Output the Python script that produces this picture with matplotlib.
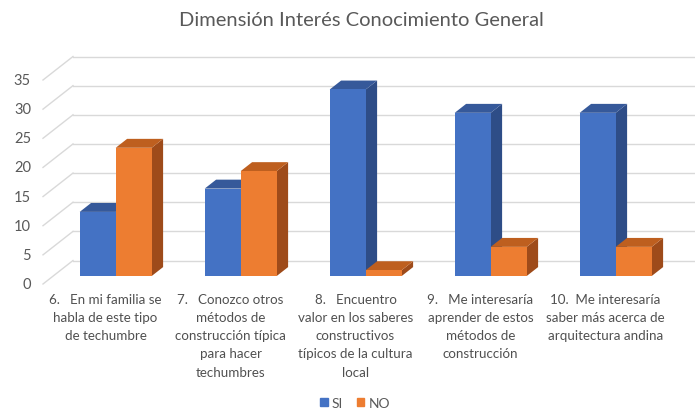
import matplotlib
matplotlib.use("Agg")
import matplotlib.pyplot as plt
from matplotlib.patches import Polygon, Patch

# datos
categorias = [
    "6.   En mi familia se\nhabla de este tipo\nde techumbre",
    "7.   Conozco otros\nmétodos de\nconstrucción típica\npara hacer\ntechumbres",
    "8.   Encuentro\nvalor en los saberes\nconstructivos\ntípicos de la cultura\nlocal",
    "9.   Me interesaría\naprender de estos\nmétodos de\nconstrucción",
    "10.  Me interesaría\nsaber más acerca de\narquitectura andina",
]
si = [11, 15, 32, 28, 28]
no = [22, 18, 1, 5, 5]
ticks = [0, 5, 10, 15, 20, 25, 30, 35]
titulo = "Dimensión Interés Conocimiento General"

plt.rcParams['font.family'] = ['Lato', 'DejaVu Sans']
gris = '#595959'

# escala: 1 categoria = 125 px, 1 unidad = 204/35 px
W, H = 695, 410
PX_CAT = 125.0
PX_U = 204.0 / 35.0
X0_PX, Y0_PX = 43.0, 285.0  # origen del plano frontal (desde arriba)

# profundidad (perspectiva oblicua)
Dx = 30.0 / PX_CAT
Dy = 23.5 / PX_U
f_front, f_back = 0.34, 0.72
ancho = 36.0 / PX_CAT

fig = plt.figure(figsize=(W / 100, H / 100), dpi=100)
ax = fig.add_axes([0, 0, 1, 1])
ax.set_xlim(-X0_PX / PX_CAT, (W - X0_PX) / PX_CAT)
ax.set_ylim(-(H - Y0_PX) / PX_U, Y0_PX / PX_U)
ax.axis('off')

# rejilla: diagonal en la pared lateral + horizontal en la pared de fondo
x_fin = (W - X0_PX) / PX_CAT + 0.1
for v in ticks:
    ax.plot([0, Dx], [v, v + Dy], color='#D9D9D9', lw=1.0, zorder=1)
    ax.plot([Dx, x_fin], [v + Dy, v + Dy], color='#D9D9D9', lw=1.0, zorder=1)
    ax.text(-0.096, v, str(v), ha='right', va='center', fontsize=10.5, color=gris)


def barra_3d(x_izq, valor, c_frente, c_techo, c_lado, z):
    ox, oy = f_front * Dx, f_front * Dy
    dx, dy = (f_back - f_front) * Dx, (f_back - f_front) * Dy
    xl, xr = x_izq + ox, x_izq + ox + ancho
    yb, yt = oy, valor + oy
    lado = [(xr, yb), (xr + dx, yb + dy), (xr + dx, yt + dy), (xr, yt)]
    techo = [(xl, yt), (xr, yt), (xr + dx, yt + dy), (xl + dx, yt + dy)]
    frente = [(xl, yb), (xr, yb), (xr, yt), (xl, yt)]
    ax.add_patch(Polygon(lado, closed=True, fc=c_lado, ec='none', zorder=z))
    ax.add_patch(Polygon(techo, closed=True, fc=c_techo, ec='none', zorder=z))
    ax.add_patch(Polygon(frente, closed=True, fc=c_frente, ec='none', zorder=z))


z = 3
for i in range(len(categorias)):
    c = i + 0.5
    barra_3d(c - ancho, si[i], '#4472C4', '#36599A', '#2E4D87', z)
    z += 1
    barra_3d(c, no[i], '#ED7D31', '#BE5F1F', '#9E4B1A', z)
    z += 1
    ax.text(c, -1.5, categorias[i], ha='center', va='top', fontsize=9.6,
            color='#505050', linespacing=1.62)

fig.text(361 / W, 1 - 20 / H, titulo, ha='center', va='center', fontsize=14.5, color=gris)

handles = [Patch(color='#4472C4', label='SI'), Patch(color='#ED7D31', label='NO')]
fig.legend(handles=handles, loc='center', bbox_to_anchor=(355 / W, 1 - 404 / H), ncol=2,
           frameon=False, fontsize=10, handlelength=0.55, handleheight=0.55,
           handletextpad=0.3, columnspacing=1.0, labelcolor=gris)

fig.savefig('out.png', dpi=100)
